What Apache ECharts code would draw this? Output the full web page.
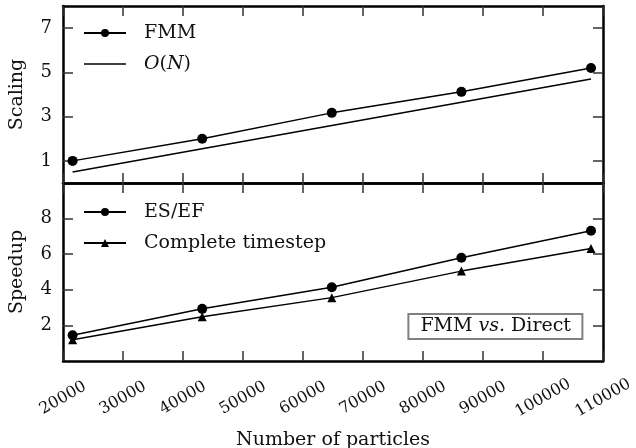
<!DOCTYPE html>
<html>
<head>
<meta charset="utf-8">
<script src="https://cdn.jsdelivr.net/npm/echarts@6/dist/echarts.min.js"></script>
<style>
html,body{margin:0;padding:0;background:#fff;}
#chart{width:636px;height:448px;}
</style>
</head>
<body>
<div id="chart"></div>
<script>
/*数据*/
var particles=[21600,43200,64800,86400,108000];
var fmmScaling=[1.0,2.0,3.17,4.12,5.2];
var linearScaling=[0.5,1.55,2.6,3.65,4.7];
var speedupEsEf=[1.45,2.93,4.14,5.8,7.32];
var speedupStep=[1.2,2.49,3.56,5.05,6.32];
var scalingTicks=[1,3,5,7];
var speedupTicks=[2,4,6,8];

var font='DejaVu Serif';
var ink='#111';

var pairs=function(xs,ys){
    var out=[];
    for(var i=0;i<xs.length;i++){
        out.push([xs[i],ys[i]]);
    }
    return out;
};

/*x轴，四条：上图下/上，下图下/上*/
var xAxisOf=function(grid,pos,labels){
    return {
        type:'value',gridIndex:grid,position:pos,
        min:20000,max:110000,interval:10000,
        axisLine:{show:true,onZero:false,lineStyle:{color:'#000',width:2.5}},
        axisTick:{show:true,inside:true,length:10,lineStyle:{color:'#333',width:1.5}},
        axisLabel:{
            show:labels,rotate:30,align:'center',verticalAlign:'middle',margin:37,
            fontFamily:font,fontSize:16,color:ink,
            formatter:function(v){return String(v);}
        },
        splitLine:{show:false},
        name:labels?'Number of particles':'',
        nameLocation:'middle',nameGap:70,
        nameTextStyle:{fontFamily:font,fontSize:19,color:ink}
    };
};
var yAxisOf=function(grid,pos,max,ticks,name){
    var left=pos==='left';
    return {
        type:'value',gridIndex:grid,position:pos,min:0,max:max,
        axisLine:{show:true,onZero:false,lineStyle:{color:'#000',width:2.5}},
        axisTick:{show:true,inside:true,length:10,customValues:ticks,lineStyle:{color:'#333',width:1.5}},
        axisLabel:{show:left,customValues:ticks,margin:11,fontFamily:font,fontSize:18,color:ink},
        splitLine:{show:false},
        name:left?name:'',
        nameLocation:'middle',nameGap:36,
        nameTextStyle:{fontFamily:font,fontSize:19,color:ink}
    };
};

var line=function(name,xi,yi,ys,symbol,size){
    return {
        name:name,type:'line',xAxisIndex:xi,yAxisIndex:yi,
        data:pairs(particles,ys),
        symbol:symbol,symbolSize:size,showSymbol:symbol!=='none',
        lineStyle:{color:'#000',width:1.5},
        itemStyle:{color:'#000'},
        animation:false,z:3
    };
};

var legendStyle={
    fontFamily:font,fontSize:19,color:ink,lineHeight:20,padding:[0,0,0,13],
    rich:{i:{fontFamily:font,fontSize:19,fontStyle:'italic',color:ink}}
};

var option={
    backgroundColor:'#fff',
    animation:false,
    grid:[
        {left:63,right:33,top:6,height:177,outerBoundsMode:'none'},
        {left:63,right:33,top:183,height:178,outerBoundsMode:'none'}
    ],
    xAxis:[
        xAxisOf(0,'bottom',false),
        xAxisOf(0,'top',false),
        xAxisOf(1,'bottom',true),
        xAxisOf(1,'top',false)
    ],
    yAxis:[
        yAxisOf(0,'left',8,scalingTicks,'Scaling'),
        yAxisOf(0,'right',8,scalingTicks,''),
        yAxisOf(1,'left',10,speedupTicks,'Speedup'),
        yAxisOf(1,'right',10,speedupTicks,'')
    ],
    legend:[
        {
            data:['FMM',{name:'O(N)',icon:'path://M0,0L28,0L28,1L0,1Z'}],
            orient:'vertical',left:83,top:23,padding:0,
            itemWidth:42,itemHeight:10,itemGap:11,symbolKeepAspect:true,
            textStyle:legendStyle,
            formatter:function(n){return n==='O(N)'?'{i|O}({i|N})':n;}
        },
        {
            data:['ES/EF','Complete timestep'],orient:'vertical',left:83,top:202,padding:0,
            itemWidth:42,itemHeight:10,itemGap:11,
            textStyle:legendStyle
        }
    ],
    title:{
        text:'FMM {i|vs.} Direct',
        right:53,top:314,
        borderColor:'#808080',borderWidth:2,padding:[3,12,3,12],
        textStyle:{
            fontFamily:font,fontSize:19,fontWeight:'normal',color:ink,
            rich:{i:{fontFamily:font,fontSize:19,fontStyle:'italic',color:ink}}
        }
    },
    series:[
        line('FMM',0,0,fmmScaling,'circle',10),
        line('O(N)',0,0,linearScaling,'none',0),
        line('ES/EF',2,2,speedupEsEf,'circle',10),
        line('Complete timestep',2,2,speedupStep,'triangle',9)
    ]
};

var chart=echarts.init(document.getElementById('chart'),null,{renderer:'canvas'});
chart.setOption(option);
</script>
</body>
</html>
